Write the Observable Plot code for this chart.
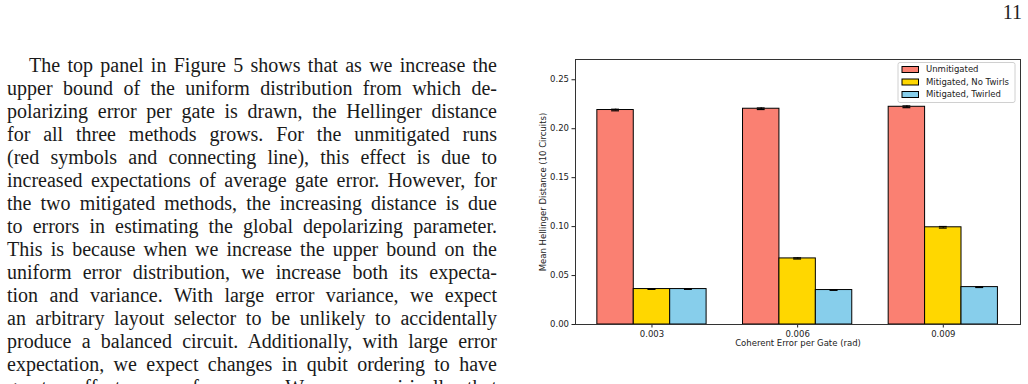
<!DOCTYPE html>
<html>
<head>
<meta charset="utf-8">
<script src="https://cdn.jsdelivr.net/npm/d3@7"></script>
<script src="https://cdn.jsdelivr.net/npm/@observablehq/plot@0.6"></script>
<style>
  html, body { margin: 0; padding: 0; background: #fff; }
  body { width: 1028px; height: 384px; overflow: hidden; position: relative; }
  #pagenum { position: absolute; top: 1px; right: 6px; font-family: "Liberation Serif", serif; font-size: 20px; color: #222; }
  #text { position: absolute; left: 7px; top: 54px; width: 490px; font-family: "Liberation Serif", serif; font-size: 20px; line-height: 23px; color: #1a1a1a; }
  #text div { white-space: nowrap; text-align: justify; text-align-last: justify; height: 23px; }
  #text div.first { padding-left: 22px; }
  #chart { position: absolute; left: 530px; top: 50px; }
</style>
</head>
<body>
<div id="pagenum">11</div>
<div id="text"></div>
<div id="chart"></div>
<script>
const pageNumber = "11";
const paragraphLines = [
  "The top panel in Figure 5 shows that as we increase the",
  "upper bound of the uniform distribution from which de-",
  "polarizing error per gate is drawn, the Hellinger distance",
  "for all three methods grows. For the unmitigated runs",
  "(red symbols and connecting line), this effect is due to",
  "increased expectations of average gate error. However, for",
  "the two mitigated methods, the increasing distance is due",
  "to errors in estimating the global depolarizing parameter.",
  "This is because when we increase the upper bound on the",
  "uniform error distribution, we increase both its expecta-",
  "tion and variance. With large error variance, we expect",
  "an arbitrary layout selector to be unlikely to accidentally",
  "produce a balanced circuit. Additionally, with large error",
  "expectation, we expect changes in qubit ordering to have",
  "greater effect on performance. We see empirically that"
];

const groups = ["0.003", "0.006", "0.009"];
const seriesNames = ["Unmitigated", "Mitigated, No Twirls", "Mitigated, Twirled"];
const seriesColors = ["#FA8072", "#FFD700", "#87CEEB"];
const unmitigated = [0.2191, 0.2204, 0.2224];
const mitigatedNoTwirls = [0.0362, 0.0675, 0.0993];
const mitigatedTwirled = [0.0362, 0.0352, 0.0382];
const errUnmitigated = [0.0008, 0.0008, 0.0009];
const errNoTwirls = [0.0003, 0.0006, 0.0008];
const errTwirled = [0.0003, 0.0003, 0.0004];
const yTicks = [0, 0.05, 0.10, 0.15, 0.20, 0.25];
const xLabel = "Coherent Error per Gate (rad)";
const yLabel = "Mean Hellinger Distance (10 Circuits)";

document.getElementById("pagenum").textContent = pageNumber;
const textEl = document.getElementById("text");
paragraphLines.forEach((l, i) => {
  const d = document.createElement("div");
  if (i === 0) d.className = "first";
  d.textContent = l;
  textEl.appendChild(d);
});

const seriesValues = [unmitigated, mitigatedNoTwirls, mitigatedTwirled];
const seriesErrors = [errUnmitigated, errNoTwirls, errTwirled];
const barWidth = 0.25;
const rows = [];
seriesNames.forEach((s, si) => {
  groups.forEach((g, gi) => {
    const c = gi + (si - 1) * barWidth;
    rows.push({series: s, group: g, value: seriesValues[si][gi], err: seriesErrors[si][gi], c});
  });
});
const capHalf = 0.027;

const chart = Plot.plot({
  width: 498,
  height: 310,
  marginLeft: 45,
  marginRight: 8,
  marginTop: 9,
  marginBottom: 36,
  style: {fontFamily: "DejaVu Sans, sans-serif", fontSize: "8.5px", color: "#222", background: "white", overflow: "visible"},
  x: {type: "linear", domain: [-0.525, 2.53], ticks: [0, 1, 2], tickFormat: i => groups[i], label: null, tickSize: 3.5, tickPadding: 3},
  y: {domain: [0, 0.2707], ticks: yTicks, tickFormat: d3.format(".2f"), label: null, tickSize: 3.5, tickPadding: 3},
  color: {domain: seriesNames, range: seriesColors},
  marks: [
    Plot.rectY(rows, {x1: d => d.c - barWidth / 2, x2: d => d.c + barWidth / 2, y1: 0, y2: "value", fill: "series", stroke: "#000", strokeWidth: 1}),
    Plot.ruleX(rows, {x: "c", y1: d => d.value - d.err, y2: d => d.value + d.err, stroke: "#000", strokeWidth: 1.5}),
    Plot.ruleY(rows, {y: d => d.value - d.err, x1: d => d.c - capHalf, x2: d => d.c + capHalf, stroke: "#000", strokeWidth: 1.2}),
    Plot.ruleY(rows, {y: d => d.value + d.err, x1: d => d.c - capHalf, x2: d => d.c + capHalf, stroke: "#000", strokeWidth: 1.2}),
    Plot.frame({stroke: "#333", strokeWidth: 1}),
    Plot.text([yLabel], {text: d => d, frameAnchor: "left", textAnchor: "middle", rotate: -90, dx: -32, fontSize: 8.5, fill: "#222"}),
    Plot.text([xLabel], {text: d => d, frameAnchor: "bottom", dy: 21, fontSize: 8.5, fill: "#222"})
  ]
});
document.getElementById("chart").appendChild(chart);

// legend (upper right, matplotlib style)
const svg = d3.select(chart);
const lg = svg.append("g").attr("font-family", "DejaVu Sans, sans-serif").attr("font-size", "8.5px").attr("text-anchor", "start");
lg.append("rect").attr("x", 368).attr("y", 12.5).attr("width", 117).attr("height", 40)
  .attr("rx", 2).attr("fill", "white").attr("fill-opacity", 0.85).attr("stroke", "#d0d0d0").attr("stroke-width", 1);
seriesNames.forEach((s, i) => {
  const cy = 19.5 + i * 12.5;
  lg.append("rect").attr("x", 372).attr("y", cy - 3).attr("width", 16.5).attr("height", 6)
    .attr("fill", seriesColors[i]).attr("stroke", "#000").attr("stroke-width", 1);
  lg.append("text").attr("x", 396).attr("y", cy).attr("dy", "0.35em").attr("text-anchor", "start").attr("fill", "#222").text(s);
});
</script>
</body>
</html>
